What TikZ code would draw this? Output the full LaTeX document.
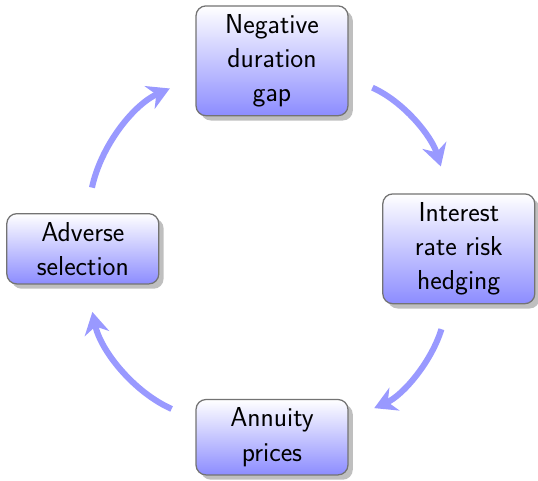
\documentclass[tikz,border=0pt]{standalone}
\usepackage{tikz}
\usetikzlibrary{arrows.meta, shadows}
\tikzset{
  phase/.style={draw=black!55, line width=0.9pt, rounded corners=0.25cm,
    top color=white, bottom color=blue!45,
    drop shadow={shadow xshift=0.12cm, shadow yshift=-0.12cm},
    minimum width=3.8cm, inner ysep=6pt, align=center,
    font=\sffamily\fontsize{19.5}{24.3}\selectfont},
  loop arrow/.style={line width=4.3pt, blue!40,
    -{Stealth[length=0.55cm, width=0.62cm, inset=0.18cm]},
    shorten <=0.65cm, shorten >=0.7cm}
}

\begin{document}
\begin{tikzpicture}
  \useasboundingbox (0,0) rectangle (13.45,12);

  % the four boxes round the cycle
  \node[phase] (gap)     at (6.8,10.48)  {Negative\\duration\\gap};
  \node[phase] (hedge)   at (11.47,5.78) {Interest\\rate risk\\hedging};
  \node[phase] (annuity) at (6.8,1.07)   {Annuity\\prices};
  \node[phase] (adverse) at (2.07,5.78)  {Adverse\\selection};

  % arrows follow the circle, clockwise
  \draw[loop arrow] (gap.-12)     to[out=-24,  in=107]  (hedge.100);
  \draw[loop arrow] (hedge.-100)  to[out=-107, in=24]   (annuity.13);
  \draw[loop arrow] (annuity.167) to[out=156,  in=-78]  (adverse.-84);
  \draw[loop arrow] (adverse.84)  to[out=78,   in=-156] (gap.192);
\end{tikzpicture}
\end{document}
